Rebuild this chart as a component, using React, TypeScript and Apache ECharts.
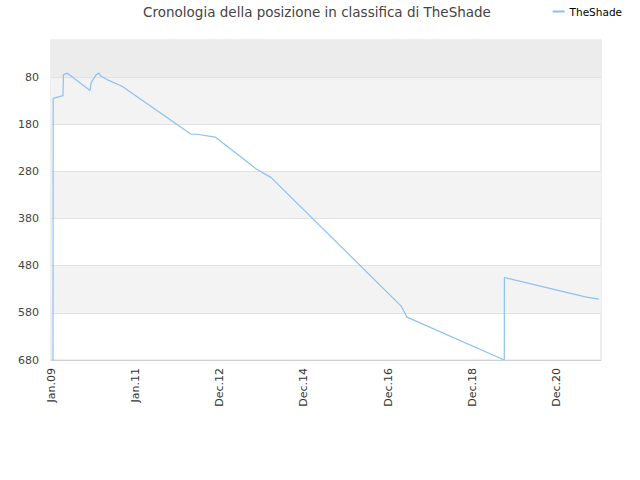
import React, { useEffect, useRef } from "react";
import * as echarts from "echarts";

const dates = [
  "2009-01-23", "2009-01-25", "2009-04-19", "2009-04-23", "2009-05-24",
  "2009-12-08", "2009-12-16", "2010-01-28", "2010-02-23", "2010-03-08",
  "2010-05-03", "2010-09-09", "2012-04-25", "2012-06-15", "2012-11-18",
  "2013-11-14", "2014-03-15", "2017-04-04", "2017-05-26", "2019-09-10",
  "2019-09-11", "2021-08-07", "2021-11-30",
];
const ranks = [
  680, 125, 119, 75, 71,
  108, 92, 75, 71, 77,
  85, 99, 201, 201, 207,
  276, 293, 565, 589, 680,
  505, 546, 551,
];
const tickDates = ["2009-01-06", "2011-01-01", "2012-12-26", "2014-12-21", "2016-12-15", "2018-12-10", "2020-12-05"];
const tickLabels = ["Jan.09", "Jan.11", "Dec.12", "Dec.14", "Dec.16", "Dec.18", "Dec.20"];
const axisEndDate = "2021-12-20";
const yTicks = [80, 180, 280, 380, 480, 580, 680];
const seriesName = "TheShade";
const title = "Cronologia della posizione in classifica di TheShade";

const FONT = "DejaVu Sans";
const ts = (d: string) => new Date(d + "T00:00:00Z").getTime();

export default function App() {
  const ref = useRef<HTMLDivElement>(null);
  useEffect(() => {
    if (!ref.current) return;
    const chart = echarts.init(ref.current, null, { renderer: "svg" });
    const tickTs = tickDates.map(ts);
    const data = dates.map((d, i) => [ts(d), ranks[i]]);
    const bands: any[] = [
      [{ yAxis: 1, itemStyle: { color: "#ececec" } }, { yAxis: 80 }],
      [{ yAxis: 80, itemStyle: { color: "#f3f3f3" } }, { yAxis: 180 }],
      [{ yAxis: 280, itemStyle: { color: "#f3f3f3" } }, { yAxis: 380 }],
      [{ yAxis: 480, itemStyle: { color: "#f3f3f3" } }, { yAxis: 580 }],
    ];
    chart.setOption({
      animation: false,
      backgroundColor: "#ffffff",
      textStyle: { fontFamily: FONT },
      title: {
        text: title,
        left: 312,
        textAlign: "center",
        top: 0,
        textStyle: { fontFamily: FONT, fontSize: 13.5, fontWeight: "normal", color: "#444" },
      },
      legend: {
        right: 13,
        top: 1,
        icon: "rect",
        itemWidth: 12,
        itemHeight: 2,
        itemGap: 6,
        textStyle: { fontFamily: FONT, fontSize: 10.5, color: "#000" },
        data: [seriesName],
      },
      grid: {
        left: 51,
        top: 40,
        width: 550,
        height: 320,
        show: true,
        borderColor: "#dcdcdc",
        borderWidth: 1,
        backgroundColor: "#ffffff",
      },
      xAxis: {
        type: "value",
        min: tickTs[0],
        max: ts(axisEndDate),
        axisLine: { show: true, lineStyle: { color: "#d0d0d0" } },
        axisTick: { show: false },
        splitLine: { show: false },
        axisLabel: {
          customValues: tickTs,
          rotate: 90,
          margin: 8,
          fontFamily: FONT,
          fontSize: 11,
          color: "#333",
          hideOverlap: false,
          showMinLabel: true,
          showMaxLabel: true,
          formatter: (v: number) => {
            const i = tickTs.indexOf(v);
            return i >= 0 ? tickLabels[i] : "";
          },
        },
      },
      yAxis: {
        type: "value",
        inverse: true,
        min: 1,
        max: 680,
        axisLine: { show: false },
        axisTick: { show: false },
        splitLine: { show: false },
        axisLabel: {
          customValues: yTicks,
          margin: 12,
          fontFamily: FONT,
          fontSize: 11,
          color: "#444",
          showMinLabel: true,
          showMaxLabel: true,
        },
      },
      series: [
        {
          name: seriesName,
          type: "line",
          data,
          showSymbol: false,
          symbol: "none",
          color: "#8cc0f2",
          lineStyle: { color: "#8cc0f2", width: 1.2 },
          z: 5,
          markArea: {
            silent: true,
            label: { show: false },
            data: bands,
          },
          markLine: {
            silent: true,
            symbol: "none",
            label: { show: false },
            lineStyle: { color: "#e2e2e2", type: "solid", width: 1 },
            data: yTicks.slice(0, 6).map((v) => ({ yAxis: v })),
          },
        },
      ],
    });
    return () => chart.dispose();
  }, []);
  return <div ref={ref} style={{ position: "fixed", left: 0, top: 0, width: 640, height: 480 }} />;
}
